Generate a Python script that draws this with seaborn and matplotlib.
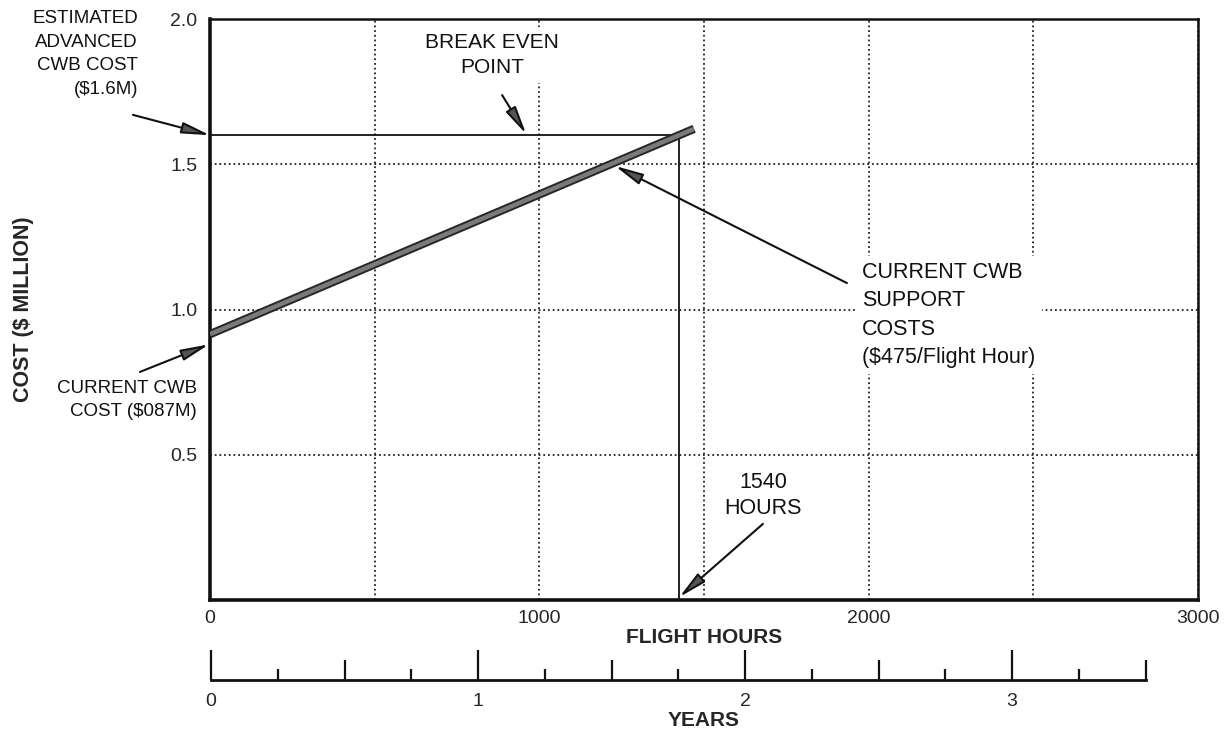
import numpy as np
import pandas as pd
import matplotlib
matplotlib.use("Agg")
import matplotlib.pyplot as plt
import matplotlib.patheffects as pe
from matplotlib.ticker import FixedLocator
import seaborn as sns

#data

flight_hours = [0, 1470]
support_cost = [0.915, 1.622]

advanced_cost = 1.6
break_even_hours = 1425

x_ticks = [0, 500, 1000, 1500, 2000, 2500, 3000]
x_tick_labels = ["0", "", "1000", "", "2000", "", "3000"]
y_ticks = [0.5, 1.0, 1.5, 2.0]
y_tick_labels = ["0.5", "1.0", "1.5", "2.0"]

year_ticks = [0, 1, 2, 3]
year_half_ticks = [0.5, 1.5, 2.5, 3.5]
year_quarter_ticks = [0.25, 0.75, 1.25, 1.75, 2.25, 2.75, 3.25]

df = pd.DataFrame({"hours": flight_hours, "cost": support_cost})

#style

sns.set_style("white")
plt.rcParams["font.family"] = ["Liberation Sans", "DejaVu Sans"]
plt.rcParams["text.color"] = "#111111"

W, H = 1231, 733
fig = plt.figure(figsize=(W / 100, H / 100), dpi=100)

# main axes: 210..1198 px wide, 19..600 px tall
ax = fig.add_axes([210 / W, (H - 600) / H, 988 / W, 581 / H])
ax.set_xlim(0, 3000)
ax.set_ylim(0, 2.0)

for side, lw in [("left", 2.6), ("bottom", 2.6), ("top", 1.8), ("right", 1.8)]:
    ax.spines[side].set_visible(True)
    ax.spines[side].set_color("#111111")
    ax.spines[side].set_linewidth(lw)

ax.set_xticks(x_ticks)
ax.set_xticklabels(x_tick_labels)
ax.set_yticks(y_ticks)
ax.set_yticklabels(y_tick_labels)

# dotted grid
ax.grid(which="major", color="#222222", linestyle=(0, (1, 1.6)), linewidth=1.3)
ax.set_axisbelow(True)

ax.tick_params(axis="both", which="both", length=0)
ax.tick_params(axis="x", pad=7, labelsize=14)
ax.tick_params(axis="y", pad=9, labelsize=14)

# support cost line (thick, hollow gray look)
sns.lineplot(data=df, x="hours", y="cost", ax=ax, color="#7a7a7a", linewidth=3.2,
             solid_capstyle="butt", zorder=4,
             path_effects=[pe.Stroke(linewidth=6.0, foreground="#262626"), pe.Normal()])

# break even lines
ax.plot([0, break_even_hours], [advanced_cost, advanced_cost], color="#111111", lw=1.3, zorder=3)
ax.plot([break_even_hours, break_even_hours], [0, advanced_cost], color="#111111", lw=1.3, zorder=3)

ax.set_xlabel("FLIGHT HOURS", fontsize=15, fontweight="bold", labelpad=1)
ax.set_ylabel("COST ($ MILLION)", fontsize=15.5, fontweight="bold")
ax.yaxis.set_label_coords(-0.178, 0.5)

#annotations

arrow = dict(arrowstyle="-|>,head_length=1.0,head_width=0.2", color="#111111", lw=1.5,
             mutation_scale=17, shrinkA=0, shrinkB=0, fc="#555555")
box = dict(boxstyle="square,pad=0.3", fc="white", ec="none")

ax.text(-219, 1.88, "ESTIMATED\nADVANCED\nCWB COST\n($1.6M)", ha="right", va="center",
        multialignment="right", fontsize=13.5, linespacing=1.5, clip_on=False)
ax.annotate("", xy=(0, 1.6), xytext=(-234, 1.67), arrowprops=arrow, annotation_clip=False)

ax.text(-39, 0.688, "CURRENT CWB\nCOST ($087M)", ha="right", va="center",
        multialignment="right", fontsize=13.5, linespacing=1.45, clip_on=False)
ax.annotate("", xy=(-3, 0.88), xytext=(-213, 0.785), arrowprops=arrow, annotation_clip=False)

ax.text(856, 1.876, "BREAK EVEN\nPOINT", ha="center", va="center", fontsize=15,
        linespacing=1.4, bbox=box, zorder=5)
ax.annotate("", xy=(960, 1.604), xytext=(887, 1.738), arrowprops=arrow, zorder=6)

ax.text(1980, 0.981, "CURRENT CWB\nSUPPORT\nCOSTS\n($475/Flight Hour)", ha="left", va="center",
        fontsize=15.5, linespacing=1.45, bbox=box, zorder=5)
ax.annotate("", xy=(1230, 1.494), xytext=(1934, 1.091), arrowprops=arrow, zorder=6)

ax.text(1679, 0.361, "1540\nHOURS", ha="center", va="center", fontsize=15.5,
        linespacing=1.3, zorder=5)
ax.annotate("", xy=(break_even_hours, 0.01), xytext=(1679, 0.262), arrowprops=arrow, zorder=6)

#years scale below, baseline at 680 px, 267 px per year

ax2 = fig.add_axes([210 / W, (H - 680) / H, 988 / W, 40 / H])
ax2.set_xlim(-1 / 267, 987 / 267)
ax2.set_ylim(0, 1)
ax2.patch.set_visible(False)
for side in ["left", "top", "right"]:
    ax2.spines[side].set_visible(False)
ax2.spines["bottom"].set_visible(True)
ax2.spines["bottom"].set_color("#111111")
ax2.spines["bottom"].set_linewidth(2.0)
ax2.spines["bottom"].set_bounds(0, 3.5)
ax2.set_yticks([])

ax2.set_xticks(year_ticks)
ax2.set_xticklabels([str(v) for v in year_ticks])
ax2.xaxis.set_minor_locator(FixedLocator(year_half_ticks + year_quarter_ticks))
ax2.tick_params(axis="x", which="both", bottom=True, direction="in", width=1.6,
                color="#111111")
ax2.tick_params(axis="x", which="major", length=21.5, pad=9, labelsize=14)
ax2.tick_params(axis="x", which="minor", length=8)
minor_ticks = ax2.xaxis.get_minor_ticks()
for i, t in enumerate(minor_ticks):
    if i < len(year_half_ticks):
        t.tick1line.set_markersize(14.5)
    else:
        t.tick1line.set_markersize(8)
ax2.set_xlabel("YEARS", fontsize=15, fontweight="bold", labelpad=1)

fig.savefig("out.png", dpi=100)
